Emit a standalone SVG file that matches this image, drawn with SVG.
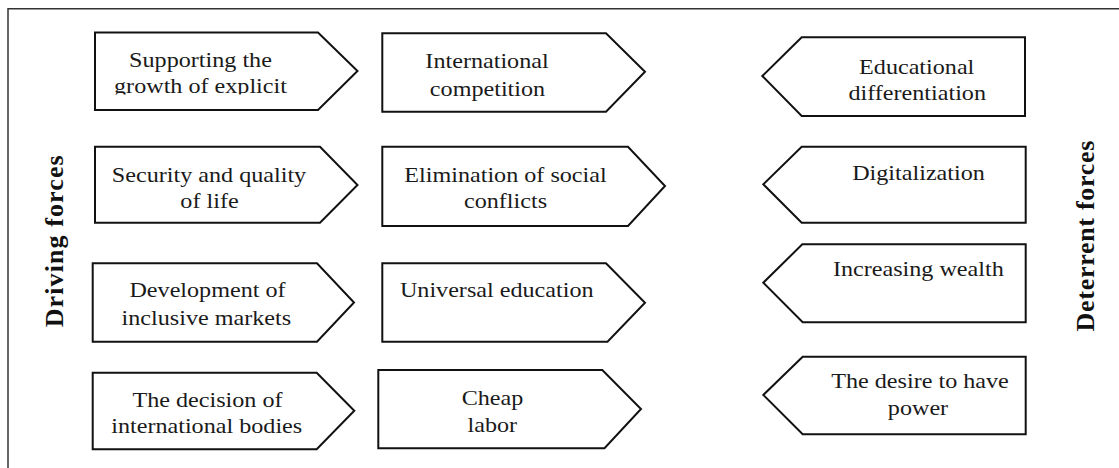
<svg xmlns="http://www.w3.org/2000/svg" width="1119" height="468" viewBox="0 0 1119 468">
  <style>
    .frame { fill: none; stroke: #333; stroke-width: 1.5; }
    .box { fill: #fff; stroke: #111; stroke-width: 2; stroke-linejoin: miter; }
  </style>
  <defs>
    <!-- the second line of the first box is cut at the box's text area -->
    <clipPath id="clip-a1">
      <rect x="90" y="30" width="270" height="64.5"/>
    </clipPath>
  </defs>
  <rect width="1119" height="468" fill="#fff"/>

  <!-- outer frame, open to the right and bottom -->
  <path class="frame" d="M8,470 V8.7 H1121"/>

  <!-- side captions -->
  <g font-family="'Liberation Serif', 'Times New Roman', serif" font-size="26" font-weight="bold" fill="#111" text-anchor="middle">
    <g id="caption-driving">
      <text transform="translate(62.5,241.3) rotate(-90)" textLength="172" lengthAdjust="spacing">Driving forces</text>
    </g>
    <g id="caption-deterrent">
      <text transform="translate(1094,236) rotate(-90)" textLength="191" lengthAdjust="spacing">Deterrent forces</text>
    </g>
  </g>

  <!-- labels are set in a slightly widened serif: matrix(1.15,0,0,1,centre-x,baseline) -->
  <g font-family="'Liberation Serif', 'Times New Roman', serif" font-size="21" fill="#1a1a1a" text-anchor="middle">
    <!-- driving forces, first column -->
    <g id="node-supporting">
      <polygon class="box" points="95,32.5 318,32.5 357.5,71 318,110 95,110"/>
      <g clip-path="url(#clip-a1)">
        <text transform="matrix(1.15,0,0,1,200.5,66.7)">Supporting the</text>
        <text transform="matrix(1.15,0,0,1,200.5,92.7)">growth of explicit</text>
      </g>
    </g>
    <g id="node-security">
      <polygon class="box" points="95,146.7 320,146.7 357.5,185 320,222.7 95,222.7"/>
      <text transform="matrix(1.15,0,0,1,209,181.7)">Security and quality</text>
      <text transform="matrix(1.15,0,0,1,209.5,208.3)">of life</text>
    </g>
    <g id="node-markets">
      <polygon class="box" points="92.7,263.3 317,263.3 354,302.5 317,341.7 92.7,341.7"/>
      <text transform="matrix(1.15,0,0,1,207.5,296.7)">Development of</text>
      <text transform="matrix(1.15,0,0,1,206.3,325)">inclusive markets</text>
    </g>
    <g id="node-bodies">
      <polygon class="box" points="92.7,372.7 316.7,372.7 354.3,410.7 316.7,449.3 92.7,449.3"/>
      <text transform="matrix(1.15,0,0,1,207.5,407.3)">The decision of</text>
      <text transform="matrix(1.15,0,0,1,206.7,433.3)">international bodies</text>
    </g>

    <!-- driving forces, second column -->
    <g id="node-competition">
      <polygon class="box" points="382.3,33.3 606,33.3 645,71.7 606,111.7 382.3,111.7"/>
      <text transform="matrix(1.15,0,0,1,487,68.3)">International</text>
      <text transform="matrix(1.15,0,0,1,487.5,95.7)">competition</text>
    </g>
    <g id="node-conflicts">
      <polygon class="box" points="382.3,146.7 628,146.7 665,186 628,226 382.3,226"/>
      <text transform="matrix(1.15,0,0,1,505.5,181.7)">Elimination of social</text>
      <text transform="matrix(1.15,0,0,1,505.5,208.3)">conflicts</text>
    </g>
    <g id="node-education">
      <polygon class="box" points="382.3,263.3 606,263.3 645,302.7 607.5,341.7 382.3,341.7"/>
      <text transform="matrix(1.15,0,0,1,496.7,296.7)">Universal education</text>
    </g>
    <g id="node-labor">
      <polygon class="box" points="378.3,370 602.3,370 641,409 604.5,448.3 378.3,448.3"/>
      <text transform="matrix(1.15,0,0,1,492.5,405)">Cheap</text>
      <text transform="matrix(1.15,0,0,1,492.3,431.7)">labor</text>
    </g>

    <!-- deterrent forces, right column -->
    <g id="node-differentiation">
      <polygon class="box" points="1025,37.3 801.7,37.3 762.3,76 801.7,116 1025,116"/>
      <text transform="matrix(1.15,0,0,1,916.7,74)">Educational</text>
      <text transform="matrix(1.15,0,0,1,917.2,100)">differentiation</text>
    </g>
    <g id="node-digitalization">
      <polygon class="box" points="1025.7,146.7 801.7,146.7 763.3,184.3 801.7,222.7 1025.7,222.7"/>
      <text transform="matrix(1.15,0,0,1,918.5,180)">Digitalization</text>
    </g>
    <g id="node-wealth">
      <polygon class="box" points="1025.7,244.3 802.3,244.3 763.3,282.7 802.7,322.3 1025.7,322.3"/>
      <text transform="matrix(1.15,0,0,1,918.3,276)">Increasing wealth</text>
    </g>
    <g id="node-power">
      <polygon class="box" points="1025.7,356.7 802.7,356.7 763.3,395 802.7,434.3 1025.7,434.3"/>
      <text transform="matrix(1.15,0,0,1,920,388.3)">The desire to have</text>
      <text transform="matrix(1.15,0,0,1,918,415)">power</text>
    </g>
  </g>

  <!-- connectors: none drawn between the nodes -->
  <g id="connectors"/>
</svg>
